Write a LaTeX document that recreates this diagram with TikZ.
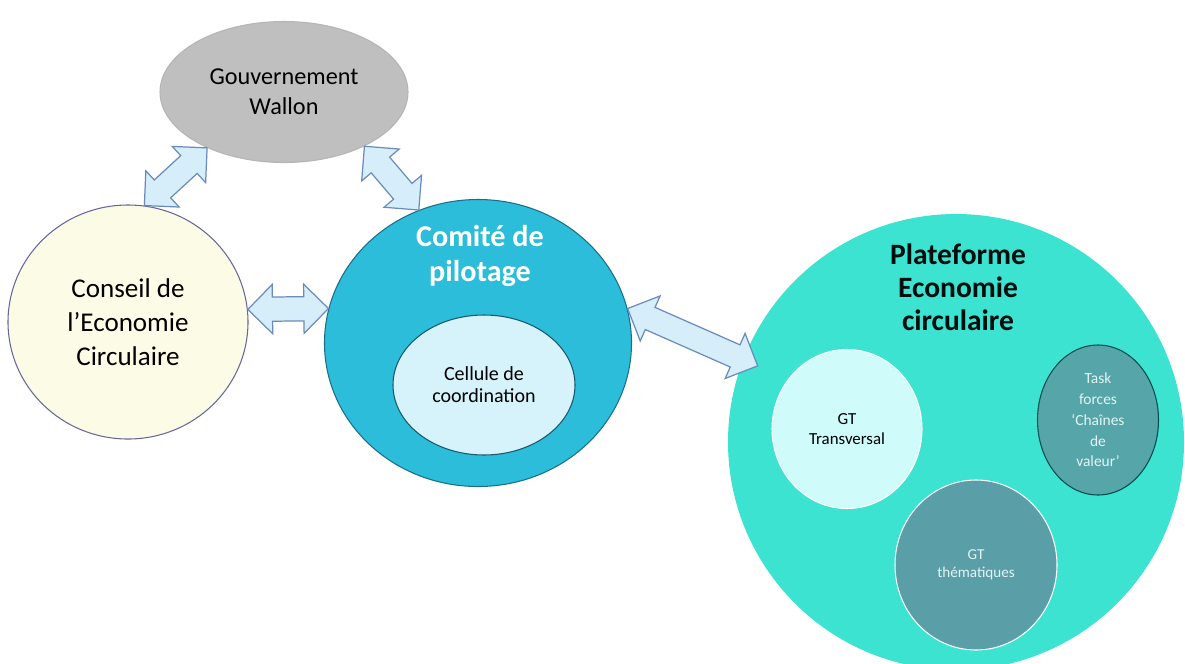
\documentclass[tikz,border=0pt]{standalone}
\usepackage{fontspec}
\setmainfont{Carlito}
\usetikzlibrary{shapes.geometric,shapes.arrows,calc,positioning}

\definecolor{govgray}{HTML}{BFBFBF}
\definecolor{ceccream}{HTML}{FCFCE6}
\definecolor{copilblue}{HTML}{2BBDD9}
\definecolor{copilline}{HTML}{1B6E8A}
\definecolor{cellblue}{HTML}{D6F2FA}
\definecolor{platturq}{HTML}{3CE3D1}
\definecolor{gttpale}{HTML}{CFFBFA}
\definecolor{taskteal}{HTML}{55A5A9}
\definecolor{gtthteal}{HTML}{5A9EA8}
\definecolor{arrowfill}{HTML}{D6EEFA}
\definecolor{arrowline}{HTML}{6A8CBC}
\definecolor{paletext}{HTML}{E2F4F4}

\begin{document}
\begin{tikzpicture}[x=0.2mm,y=-0.2mm,
  blob/.style={ellipse,inner sep=0pt,align=center,line width=0.6pt},
  bloc/.style={double arrow,draw=arrowline,fill=arrowfill,line width=0.7pt,
    inner xsep=0pt,inner ysep=0.23cm,text height=0pt,text depth=0pt,
    double arrow head extend=0.25cm,double arrow tip angle=90},
  bigtxt/.style={align=center,font=\bfseries\fontsize{16.8}{18.8}\selectfont},
  midtxt/.style={font=\fontsize{13.8}{17.2}\selectfont},
  smalltxt/.style={font=\fontsize{9.6}{11.4}\selectfont}]

\useasboundingbox (0,0) rectangle (1185,663);

% main bodies
\node[blob,fill=govgray,draw=govgray!95!black,minimum width=4.96cm,minimum height=2.82cm,midtxt] (gov) at (284,92) {Gouvernement\\Wallon};
\node[blob,fill=ceccream,draw=black!65!blue!60,minimum width=4.8cm,minimum height=4.68cm,font=\fontsize{15.4}{19.2}\selectfont] (cec) at (128,322) {Conseil de\\l’Economie\\Circulaire};
\node[blob,fill=copilblue,draw=copilline,minimum width=6.14cm,minimum height=5.74cm] (copil) at (478,343) {};
\node[blob,fill=cellblue,draw=copilline!80!black,minimum width=3.64cm,minimum height=2.8cm,font=\fontsize{11.4}{12.6}\selectfont] (cell) at (484,385) {Cellule de\\coordination};
\node[bigtxt,text=white,font=\bfseries\fontsize{17.2}{19.8}\selectfont] (copiltxt) at (480,256) {Comité de\\pilotage};

% plateforme
\node[circle,inner sep=0pt,fill=platturq,minimum size=9.12cm] (plat) at (956,442) {};
\node[bigtxt,text=black!90!teal] (plattxt) at (958,287) {Plateforme\\Economie\\circulaire};
\node[blob,fill=gttpale,draw=white,minimum width=3.0cm,minimum height=3.18cm,smalltxt] (gtt) at (847,429) {GT\\Transversal};
\node[blob,fill=taskteal,draw=teal!60!black,minimum width=2.42cm,minimum height=3.0cm,text=paletext,font=\fontsize{8.8}{11.8}\selectfont] (task) at (1098,420) {Task\\forces\\‘Chaînes\\de\\valeur’};
\node[blob,fill=gtthteal,draw=white,minimum width=3.24cm,minimum height=3.4cm,text=paletext,font=\fontsize{8.6}{10.4}\selectfont] (gtth) at (976,565) {GT\\thématiques};

% links
\coordinate (platin) at ($(plat.center)!0.93!(plat.159)$);
\path let \p1=(cec.82), \p2=(gov.216), \n1={veclen(\x2-\x1,\y2-\y1)} in (cec.82) -- node[bloc,sloped,minimum height=\n1] {} (gov.216);
\path let \p1=(gov.-34), \p2=(copil.114), \n1={veclen(\x2-\x1,\y2-\y1)} in (gov.-34) -- node[bloc,sloped,minimum height=\n1] {} (copil.114);
\path let \p1=(cec.6), \p2=(copil.167), \n1={veclen(\x2-\x1,\y2-\y1)} in (cec.6) -- node[bloc,sloped,minimum height=\n1] {} (copil.167);
\path let \p1=(copil.13), \p2=(platin), \n1={veclen(\x2-\x1,\y2-\y1)} in (copil.13) -- node[bloc,sloped,minimum height=\n1] {} (platin);

\end{tikzpicture}
\end{document}
